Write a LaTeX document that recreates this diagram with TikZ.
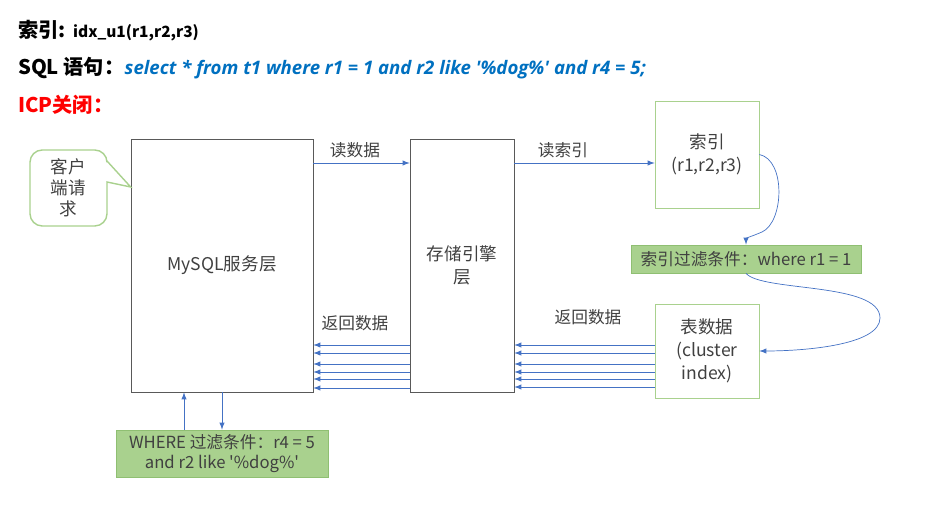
\documentclass[tikz,border=0pt]{standalone}
\usepackage{fontspec}
\usepackage{xcolor}
\newfontfamily\cnfont{Noto Sans CJK SC}
\newfontfamily\queryfont{Open Sans}
\usetikzlibrary{arrows,positioning}
\definecolor{flowblue}{HTML}{4472C4}
\definecolor{boxgray}{HTML}{595959}
\definecolor{leafgreen}{HTML}{A9D18E}
\definecolor{leafline}{HTML}{8FBF72}
\definecolor{sqlblue}{HTML}{0070C0}
\definecolor{textgray}{HTML}{404040}
\tikzset{%
	layer/.style  = {draw=boxgray, rectangle, minimum height=5.06cm, inner sep=0pt, align=center},
	store/.style  = {draw=leafgreen, rectangle, minimum width=2.08cm, inner sep=0pt, align=center, font=\boxfont},
	filter/.style = {draw=leafline, fill=leafgreen, rectangle, inner sep=0pt, align=center},
	bubble/.style = {draw=leafgreen, line width=0.8pt},
	flow/.style   = {draw=flowblue, -latex},
}
\newcommand{\headfont}{\cnfont\bfseries\fontsize{11.5}{14}\selectfont}
\newcommand{\boxfont}{\cnfont\fontsize{10}{13}\selectfont}

\begin{document}
\begin{tikzpicture}[x=0.02cm, y=-0.02cm, font=\cnfont\fontsize{9.5}{11.5}\selectfont, text=textgray]
	\useasboundingbox (0,0) rectangle (925,526);
	% header lines
	\node[anchor=west, font=\headfont, text=black] (idxhead) at (12,30) {索引:};
	\node[anchor=base west, xshift=-0.1cm, font=\cnfont\bfseries\fontsize{8.8}{10}\selectfont, text=black] (idxname) at (idxhead.base east) {idx\_u1(r1,r2,r3)};
	\node[anchor=west, font=\headfont, text=black] (sqlhead) at (12,68) {SQL 语句：};
	\node[anchor=base west, xshift=-0.24cm, font=\queryfont\bfseries\itshape\fontsize{10.6}{12}\selectfont, text=sqlblue] (query) at (sqlhead.base east) {select * from t1 where r1 = 1 and r2 like '\%dog\%' and r4 = 5;};
	\node[anchor=west, font=\headfont, text=red] (icphead) at (12,105) {ICP关闭：};
	
	% boxes
	\node[layer, minimum width=3.64cm, font=\boxfont] (mysql) at (222,265.5) {MySQL服务层};
	\node[layer, minimum width=2.08cm, font=\boxfont] (engine) at (462,265.5) {存储引擎\\层};
	\node[store, minimum height=2.14cm] (idx) at (707,154.5) {索引\\(r1,r2,r3)};
	\node[store, minimum height=1.88cm] (tbl) at (707,351) {表数据\\(cluster\\index)};
	\node[filter, minimum width=4.6cm, minimum height=0.56cm] (idxfilter) at (746,259) {索引过滤条件：where r1 = 1};
	\node[filter, minimum width=4.24cm, minimum height=0.94cm] (wherefilter) at (222,453.5) {WHERE 过滤条件：r4 = 5\\and r2 like '\%dog\%'};
	
	% client callout
	\coordinate (tip) at (mysql.west |- 0,187);
	\draw[bubble] (tip) -- (107,161) [rounded corners=7pt] |- (30,150) |- (107,226) [sharp corners] -- (107,182) -- cycle;
	\node[align=center, font=\cnfont\fontsize{10}{12}\selectfont] (client) at (68,188) {客户\\端请\\求};
	
	% reads
	\draw[flow] (mysql.east |- 0,163) -- (engine.west |- 0,163);
	\node (readdata) at (355,150) {读数据};
	\draw[flow] (engine.east |- 0,163) -- (idx.west |- 0,163);
	\node (readidx) at (563,150) {读索引};
	\draw[flow] (idx.east) .. controls (786,160) and (784,222) .. (762,232) .. controls (750,237) and (746,238) .. (idxfilter.north);
	\draw[flow] (idxfilter.south) .. controls (762,292) and (880,282) .. (880,318) .. controls (880,345) and (805,351) .. (tbl.east);
	
	% returns
	\foreach \y in {345,353,364,372,379,388}
		\draw[flow] (engine.west |- 0,\y) -- (mysql.east |- 0,\y);
	\foreach \y in {345,353,364,372,379,387}
		\draw[flow] (tbl.west |- 0,\y) -- (engine.east |- 0,\y);
	\node (backleft) at (355,323) {返回数据};
	\node (backright) at (588,317) {返回数据};
	
	% where filter
	\draw[flow] (wherefilter.north -| 184,0) -- (mysql.south -| 184,0);
	\draw[flow] (mysql.south -| 222,0) -- (wherefilter.north -| 222,0);
\end{tikzpicture}
\end{document}
